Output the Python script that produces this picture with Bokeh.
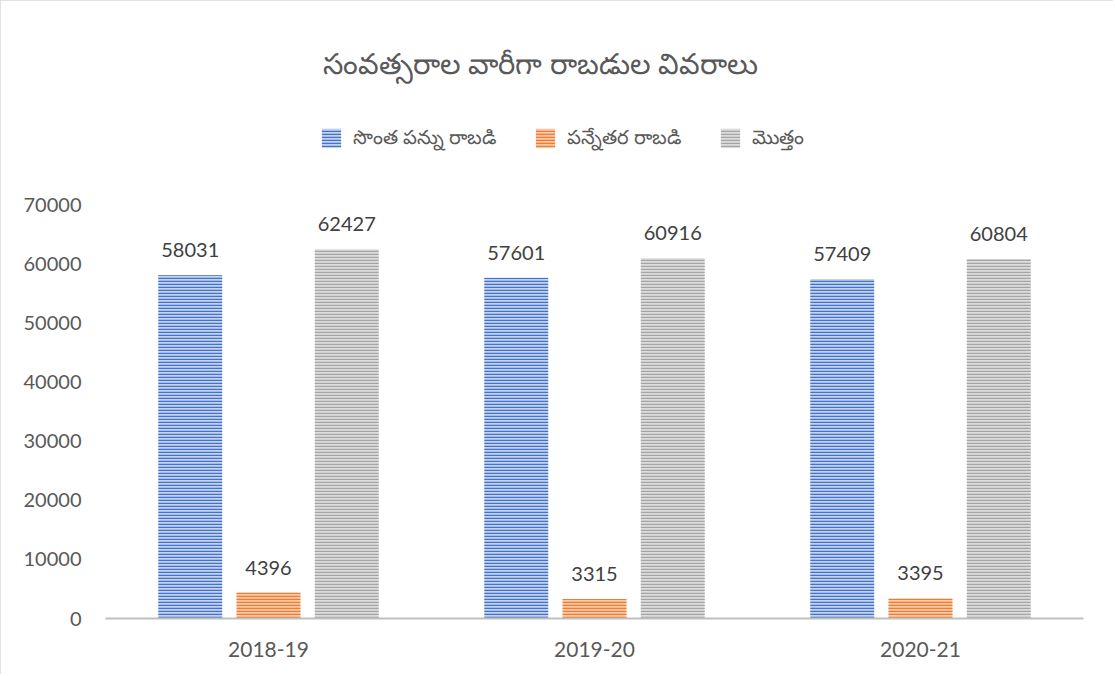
from bokeh.plotting import figure
from bokeh.models import (ColumnDataSource, Legend, LegendItem, LabelSet, Label,
                          FactorRange, Range1d, FixedTicker)
from bokeh.transform import dodge
from bokeh.embed import file_html
from bokeh.resources import INLINE
from bokeh.core.properties import value

# ---- data ----
years = ["2018-19", "2019-20", "2020-21"]
own_tax = [58031, 57601, 57409]
non_tax = [4396, 3315, 3395]
total = [62427, 60916, 60804]
series_names = ["సొంత పన్ను రాబడి", "పన్నేతర రాబడి", "మొత్తం"]
title_text = "సంవత్సరాల వారీగా రాబడుల వివరాలు"
y_ticks = [0, 10000, 20000, 30000, 40000, 50000, 60000, 70000]

src = ColumnDataSource(dict(
    year=years, own=own_tax, non=non_tax, tot=total,
    own_t=[str(v) for v in own_tax],
    non_t=[str(v) for v in non_tax],
    tot_t=[str(v) for v in total],
))

# layout (pixels)
W, H = 1113, 674
FRAME_TOP, FRAME_BOTTOM, FRAME_LEFT, FRAME_RIGHT = 20, 618, 105, 1083
TOP70K = 204  # pixel where 70000 sits
y_end = 70000 * (FRAME_BOTTOM - FRAME_TOP) / (FRAME_BOTTOM - TOP70K)

p = figure(width=W, height=H, x_range=FactorRange(*years), y_range=Range1d(0, y_end),
           output_backend="svg", toolbar_location=None,
           min_border_left=FRAME_LEFT, min_border_right=W - FRAME_RIGHT,
           min_border_top=FRAME_TOP, min_border_bottom=H - FRAME_BOTTOM)
p.styles = {"outline": "2px solid #d9d9d9", "outline-offset": "-2px"}
p.outline_line_color = None
p.xgrid.grid_line_color = None
p.ygrid.grid_line_color = None

FONT = "Lato"
p.yaxis.ticker = FixedTicker(ticks=y_ticks)
p.yaxis.axis_line_color = None
p.yaxis.major_tick_line_color = None
p.yaxis.minor_tick_line_color = None
p.yaxis.major_label_standoff = 18
p.yaxis.major_label_text_font = FONT
p.yaxis.major_label_text_font_size = "20px"
p.yaxis.major_label_text_color = "#595959"

p.xaxis.axis_line_color = "#bfbfbf"
p.xaxis.axis_line_width = 2
p.xaxis.major_tick_line_color = None
p.xaxis.minor_tick_line_color = None
p.xaxis.major_label_standoff = 17
p.xaxis.major_label_text_font = FONT
p.xaxis.major_label_text_font_size = "21px"
p.xaxis.major_label_text_color = "#595959"

offsets = [-0.24, 0.0, 0.24]
cols = ["own", "non", "tot"]
txts = ["own_t", "non_t", "tot_t"]
fills = ["#c3d2ee", "#f8c9a8", "#dcdcdc"]
hatches = ["#4472c4", "#ed7d31", "#a5a5a5"]

renderers = []
for off, c, t, f, h in zip(offsets, cols, txts, fills, hatches):
    r = p.vbar(x=dodge("year", off, range=p.x_range), top=c, width=0.196, source=src,
               fill_color=f, line_color=None, hatch_pattern="horizontal_line",
               hatch_color=h, hatch_scale=3, hatch_weight=1.5)
    renderers.append(r)
    lbl = LabelSet(x=dodge("year", off, range=p.x_range), y=c, text=t, source=src,
                   y_offset=18, text_align="center", text_baseline="bottom",
                   text_font=value(FONT), text_font_size="20px", text_color="#404040")
    p.add_layout(lbl)

title = Label(x=540 - FRAME_LEFT, y=FRAME_BOTTOM - 62, x_units="screen", y_units="screen",
              text=title_text, text_align="center", text_baseline="middle",
              text_font="Noto Sans", text_font_size="29px", text_color="#595959")
p.add_layout(title)

legend = Legend(items=[LegendItem(label=n, renderers=[r]) for n, r in zip(series_names, renderers)],
                orientation="horizontal", location=(319 - FRAME_LEFT, FRAME_BOTTOM - 153),
                padding=0, margin=0, border_line_color=None, background_fill_alpha=0,
                glyph_width=24, glyph_height=24, label_standoff=10, spacing=37,
                label_text_font="Noto Sans", label_text_font_size="19.5px",
                label_text_color="#595959")
p.add_layout(legend, "center")

open("out.html", "w").write(file_html(p, INLINE))
